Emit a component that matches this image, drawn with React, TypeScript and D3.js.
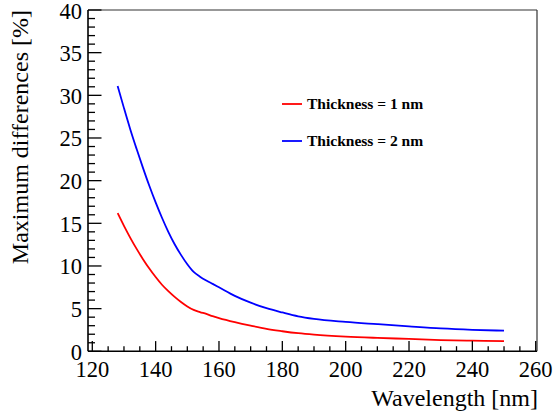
import React from "react";
import * as d3 from "d3";

const wavelengths = [128, 130, 132, 134, 136, 138, 140, 142, 144, 146, 148, 150, 152, 154, 156, 158, 160, 165, 170, 175, 180, 185, 190, 200, 210, 220, 230, 240, 250];
const thickness1nm = [16.2, 14.7, 13.3, 12.0, 10.8, 9.7, 8.7, 7.8, 7.05, 6.38, 5.78, 5.26, 4.85, 4.6, 4.38, 4.12, 3.9, 3.42, 3.0, 2.62, 2.35, 2.12, 1.95, 1.72, 1.57, 1.45, 1.32, 1.25, 1.2];
const thickness2nm = [31.1, 28.5, 26.0, 23.7, 21.5, 19.4, 17.45, 15.65, 14.0, 12.55, 11.3, 10.2, 9.3, 8.75, 8.3, 7.9, 7.5, 6.5, 5.7, 5.05, 4.55, 4.1, 3.8, 3.45, 3.18, 2.92, 2.68, 2.52, 2.42];
const seriesNames = ["Thickness = 1 nm", "Thickness = 2 nm"];
const seriesColors = ["#ff0000", "#0000ff"];
const xMajorTicks = [120, 140, 160, 180, 200, 220, 240, 260];
const yMajorTicks = [0, 5, 10, 15, 20, 25, 30, 35, 40];
const xTitle = "Wavelength [nm]";
const yTitle = "Maximum differences [%]";

const W = 553;
const H = 417;
const frameL = 88;
const frameR = 537;
const frameT = 10;
const frameB = 351.3;

export default function App() {
  const x = d3.scaleLinear().domain([120, 260]).range([92.3, 535.7]);
  const y = d3.scaleLinear().domain([0, 40]).range([frameB, frameT]);
  const xMinor = d3.range(120, 260.01, 5).filter((v) => v % 20 !== 0);
  const yMinor = d3.range(0, 40.01, 1).filter((v) => v % 5 !== 0);
  const line = d3
    .line<number>()
    .x((_, i) => x(wavelengths[i]))
    .y((d) => y(d))
    .curve(d3.curveMonotoneX);
  const series = [thickness1nm, thickness2nm];
  const tf: React.CSSProperties = { fontFamily: "Liberation Serif, DejaVu Serif, serif" };
  const legendY = [104, 141];

  return (
    <svg width={W} height={H} style={{ position: "absolute", left: 0, top: 0 }}>
      <rect width={W} height={H} fill="#fff" />
      <line x1={frameL} x2={frameR} y1={frameT} y2={frameT} stroke="#333" strokeWidth={1.2} />
      <line x1={frameR} x2={frameR} y1={frameT} y2={frameB} stroke="#333" strokeWidth={1.2} />
      {series.map((s, i) => (
        <path key={i} d={line(s) || ""} fill="none" stroke={seriesColors[i]} strokeWidth={1.8} />
      ))}
      <line x1={frameL} x2={frameL} y1={frameT} y2={frameB} stroke="#000" strokeWidth={1.6} />
      <line x1={frameL} x2={frameR} y1={frameB} y2={frameB} stroke="#000" strokeWidth={1.6} />
      {yMajorTicks.map((t) => (
        <g key={"ym" + t}>
          <line x1={frameL} x2={frameL + 13.5} y1={y(t)} y2={y(t)} stroke="#000" strokeWidth={1.3} />
          <text x={82} y={y(t) + 8.5} fontSize={22.5} textAnchor="end" style={tf}>
            {t}
          </text>
        </g>
      ))}
      {yMinor.map((t) => (
        <line key={"yn" + t} x1={frameL} x2={frameL + 7} y1={y(t)} y2={y(t)} stroke="#000" strokeWidth={1.3} />
      ))}
      {xMajorTicks.map((t) => (
        <g key={"xm" + t}>
          <line x1={x(t)} x2={x(t)} y1={frameB} y2={frameB - 10.2} stroke="#000" strokeWidth={1.3} />
          <text x={x(t)} y={377} fontSize={22.5} textAnchor="middle" style={tf}>
            {t}
          </text>
        </g>
      ))}
      {xMinor.map((t) => (
        <line key={"xn" + t} x1={x(t)} x2={x(t)} y1={frameB} y2={frameB - 5.1} stroke="#000" strokeWidth={1.3} />
      ))}
      <text x={frameR + 1} y={406} fontSize={24} textAnchor="end" style={tf}>
        {xTitle}
      </text>
      <text transform={`translate(28,${frameT}) rotate(-90)`} fontSize={24} textAnchor="end" style={tf}>
        {yTitle}
      </text>
      {seriesNames.map((n, i) => (
        <g key={n}>
          <line x1={282} x2={302} y1={legendY[i]} y2={legendY[i]} stroke={seriesColors[i]} strokeWidth={1.8} />
          <text x={307} y={legendY[i] + 4.5} fontSize={15.5} fontWeight="bold" style={tf}>
            {n}
          </text>
        </g>
      ))}
    </svg>
  );
}
